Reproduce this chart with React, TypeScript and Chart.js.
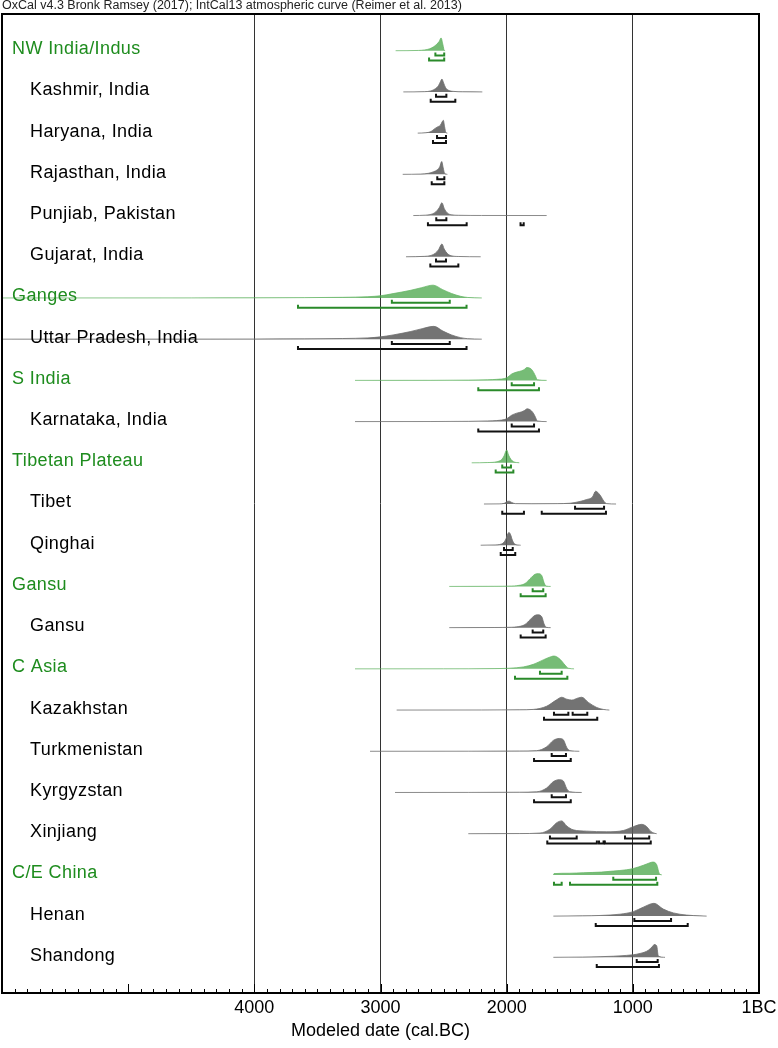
import React, { useEffect, useRef } from "react";
import { Chart, registerables } from "chart.js";
Chart.register(...registerables);

const headerText = "OxCal v4.3 Bronk Ramsey (2017); IntCal13 atmospheric curve (Reimer et al. 2013)";
const axisTitle = "Modeled date (cal.BC)";

const rowLabels = [
  "NW India/Indus", "Kashmir, India", "Haryana, India", "Rajasthan, India", "Punjiab, Pakistan",
  "Gujarat, India", "Ganges", "Uttar Pradesh, India", "S India", "Karnataka, India",
  "Tibetan Plateau", "Tibet", "Qinghai", "Gansu", "Gansu", "C Asia", "Kazakhstan",
  "Turkmenistan", "Kyrgyzstan", "Xinjiang", "C/E China", "Henan", "Shandong",
];
const groupRows = [0, 6, 8, 10, 13, 15, 20];

// density curves: [year BC, relative probability]
const nwIndia = [[2880,0],[2700,0.02],[2650,0.06],[2610,0.15],[2580,0.3],[2555,0.5],[2535,0.72],[2520,1],[2505,0.45],[2495,0.03],[2488,0]];
const kashmir = [[2819,0],[2650,0.02],[2600,0.08],[2565,0.25],[2540,0.5],[2525,0.8],[2513,1],[2500,0.7],[2485,0.35],[2460,0.12],[2420,0.04],[2350,0.01],[2193,0]];
const haryana = [[2705,0],[2640,0.03],[2600,0.12],[2570,0.35],[2545,0.5],[2525,0.62],[2510,0.9],[2502,1],[2492,0.5],[2482,0.05],[2470,0]];
const rajasthan = [[2824,0],[2680,0.02],[2620,0.08],[2580,0.2],[2550,0.35],[2530,0.6],[2515,1],[2503,0.5],[2492,0.08],[2470,0]];
const punjab = [[2740,0],[2640,0.03],[2590,0.12],[2560,0.3],[2535,0.6],[2513,1],[2495,0.55],[2470,0.2],[2440,0.06],[2380,0.02],[2200,0.005],[1683,0]];
const gujarat = [[2798,0],[2650,0.03],[2600,0.1],[2565,0.28],[2540,0.55],[2513,1],[2495,0.6],[2470,0.25],[2440,0.08],[2380,0.02],[2206,0]];
const ganges = [[6000,0],[4500,0.005],[4000,0.01],[3600,0.025],[3300,0.05],[3100,0.1],[3000,0.17],[2900,0.34],[2760,0.6],[2676,0.8],[2583,1],[2507,0.65],[2437,0.35],[2366,0.13],[2310,0.04],[2197,0]];
const uttarPradesh = [[6000,0],[4500,0.005],[4000,0.01],[3600,0.025],[3300,0.05],[3100,0.1],[3000,0.18],[2900,0.33],[2760,0.6],[2670,0.82],[2577,1],[2505,0.63],[2437,0.33],[2366,0.12],[2310,0.04],[2197,0]];
const sIndia = [[3202,0],[2600,0.005],[2300,0.02],[2150,0.05],[2079,0.08],[2000,0.2],[1960,0.5],[1920,0.65],[1881,0.75],[1860,0.85],[1841,1],[1815,0.95],[1802,0.85],[1785,0.6],[1770,0.3],[1757,0.05],[1683,0]];
const karnataka = [[3202,0],[2600,0.005],[2300,0.02],[2150,0.05],[2079,0.08],[2000,0.22],[1960,0.5],[1920,0.66],[1881,0.76],[1860,0.86],[1837,1],[1815,0.93],[1800,0.8],[1785,0.6],[1770,0.3],[1757,0.05],[1683,0]];
const tibetanPlateau = [[2277,0],[2150,0.02],[2080,0.08],[2040,0.25],[2020,0.55],[2000,1],[1985,0.6],[1965,0.25],[1945,0.08],[1900,0]];
const tibet = [[2180,0],[2060,0.01],[2020,0.05],[1995,0.2],[1979,0.22],[1960,0.12],[1930,0.03],[1800,0.02],[1600,0.03],[1498,0.06],[1419,0.2],[1366,0.35],[1320,0.55],[1295,1],[1260,0.7],[1228,0.2],[1207,0.03],[1133,0]];
const qinghai = [[2206,0],[2100,0.02],[2040,0.1],[2010,0.4],[1990,0.9],[1982,1],[1970,0.85],[1955,0.4],[1935,0.08],[1889,0]];
const gansuGroup = [[2455,0],[2100,0.01],[1960,0.03],[1920,0.06],[1855,0.22],[1815,0.6],[1775,0.95],[1749,1],[1722,0.85],[1704,0.3],[1688,0.03],[1651,0]];
const gansu = [[2455,0],[2100,0.01],[1960,0.03],[1920,0.06],[1855,0.24],[1815,0.62],[1775,0.96],[1752,1],[1722,0.85],[1704,0.3],[1688,0.03],[1651,0]];
const cAsia = [[3202,0],[2500,0.005],[2100,0.02],[1974,0.05],[1868,0.15],[1789,0.35],[1710,0.7],[1643,0.97],[1625,1],[1577,0.75],[1538,0.3],[1511,0.05],[1466,0]];
const kazakhstan = [[2872,0],[2200,0.005],[1900,0.02],[1789,0.05],[1683,0.3],[1604,0.8],[1564,1],[1524,0.85],[1485,0.78],[1432,0.95],[1405,1],[1353,0.6],[1286,0.2],[1234,0.05],[1186,0]];
const turkmenistan = [[3083,0],[2300,0.005],[1900,0.02],[1762,0.05],[1683,0.35],[1630,0.85],[1583,1],[1551,0.9],[1524,0.3],[1498,0.05],[1424,0]];
const kyrgyzstan = [[2885,0],[2300,0.005],[1900,0.02],[1762,0.05],[1683,0.35],[1630,0.85],[1583,1],[1551,0.9],[1524,0.3],[1498,0.05],[1405,0]];
const xinjiang = [[2304,0],[1900,0.01],[1736,0.05],[1657,0.35],[1604,0.85],[1564,1],[1524,0.6],[1472,0.3],[1366,0.2],[1207,0.15],[1075,0.25],[996,0.55],[930,0.73],[890,0.55],[858,0.18],[824,0.02],[811,0]];
const ceChina = [[1630,0],[1625,0.1],[1500,0.13],[1393,0.17],[1250,0.22],[1155,0.3],[1050,0.4],[996,0.5],[917,0.75],[864,0.95],[843,1],[811,0.8],[790,0.1],[771,0]];
const henan = [[1630,0],[1400,0.02],[1260,0.05],[1102,0.15],[996,0.35],[917,0.7],[832,1],[759,0.55],[679,0.25],[573,0.08],[468,0.02],[415,0]];
const shandong = [[1630,0],[1400,0.02],[1260,0.05],[1049,0.15],[943,0.3],[877,0.55],[840,0.9],[832,1],[811,0.9],[798,0.1],[745,0]];

const densities = [nwIndia, kashmir, haryana, rajasthan, punjab, gujarat, ganges, uttarPradesh, sIndia, karnataka,
  tibetanPlateau, tibet, qinghai, gansuGroup, gansu, cAsia, kazakhstan, turkmenistan, kyrgyzstan, xinjiang, ceChina, henan, shandong];

// highest probability ranges [from BC, to BC]
const range68 = [
  [[2565,2495]], [[2560,2478]], [[2552,2481]], [[2550,2494]], [[2558,2478]], [[2560,2481]],
  [[2910,2451]], [[2910,2451]], [[1960,1783]], [[1960,1783]], [[2035,1966]], [[1458,1228]],
  [[2021,1952]], [[1794,1710]], [[1794,1710]], [[1736,1564]], [[1625,1511],[1477,1361]],
  [[1643,1530]], [[1643,1530]], [[1657,1445],[1062,870]], [[1155,816]], [[988,697]], [[969,803]],
];
const range95 = [
  [[2615,2495]], [[2602,2407]], [[2584,2481]], [[2594,2494]], [[2624,2317],[1890,1865]], [[2605,2383]],
  [[3654,2318]], [[3654,2318]], [[2225,1744]], [[2225,1744]], [[2087,1947]], [[2035,1863],[1722,1213]],
  [[2047,1932]], [[1889,1691]], [[1889,1691]], [[1934,1519]], [[1704,1282]],
  [[1783,1492]], [[1783,1492]], [[1678,1285],[1268,1232],[1222,858]], [[1625,1564],[1498,806]], [[1294,565]], [[1286,793]],
];

const majorTickYears = [4000, 3000, 2000, 1000, 0];
const majorTickLabels = ["4000", "3000", "2000", "1000", "1BC"];
const gridYears = [4000, 3000, 2000, 1000];

const FONT = '"Liberation Sans", Arial, sans-serif';
const ROW_PX = 41.21;
const PEAK = 12.8 / ROW_PX;
const OFF68 = 4.8 / ROW_PX;
const OFF95 = 9.8 / ROW_PX;
const TICK = 3 / ROW_PX;

const GREEN_TEXT = "#1e8c1e";
const GREEN_BRACKET = "#2a8a2a";

const overlay = {
  id: "overlay",
  afterDatasetsDraw(chart: any) {
    const { ctx, chartArea: a, scales } = chart;
    const x = scales.x, y = scales.y;
    ctx.save();
    ctx.font = "18px " + FONT;
    ctx.textBaseline = "middle";
    ctx.textAlign = "left";
    try { (ctx as any).letterSpacing = "0.4px"; } catch (e) {}
    rowLabels.forEach((t, i) => {
      const g = groupRows.includes(i);
      ctx.fillStyle = g ? GREEN_TEXT : "#000";
      ctx.fillText(t, g ? a.left + 10 : a.left + 28, y.getPixelForValue(i) - 1.5);
    });
    try { (ctx as any).letterSpacing = "0px"; } catch (e) {}
    ctx.strokeStyle = "#000";
    ctx.lineWidth = 1;
    x.ticks.forEach((t: any) => {
      const px = Math.round(x.getPixelForValue(t.value)) + 0.5;
      const len = t.value % 1000 === 0 ? 9 : 4;
      ctx.beginPath();
      ctx.moveTo(px, a.bottom);
      ctx.lineTo(px, a.bottom - len);
      ctx.stroke();
    });
    ctx.lineWidth = 2;
    ctx.strokeRect(a.left, a.top, a.right - a.left, a.bottom - a.top);
    ctx.restore();
  },
};

export default function App() {
  const ref = useRef<HTMLCanvasElement>(null);
  useEffect(() => {
    const datasets: any[] = [];
    densities.forEach((dens, i) => {
      const g = groupRows.includes(i);
      datasets.push({
        data: dens.map(([yr, d]) => ({ x: yr, y: i - d * PEAK })),
        borderColor: g ? "rgba(100,180,100,0.75)" : "rgba(110,110,110,0.8)",
        backgroundColor: g ? "rgba(60,160,60,0.7)" : "rgba(90,90,90,0.85)",
        borderWidth: 1,
        fill: { value: i },
        pointRadius: 0,
        cubicInterpolationMode: "monotone",
      });
    });
    const addBrackets = (list: number[][][], off: number) => {
      list.forEach((ranges, i) => {
        const g = groupRows.includes(i);
        ranges.forEach(([a, b]) => {
          const yy = i + off;
          datasets.push({
            data: [
              { x: a, y: yy - TICK },
              { x: a, y: yy },
              { x: b, y: yy },
              { x: b, y: yy - TICK },
            ],
            borderColor: g ? GREEN_BRACKET : "#111",
            borderWidth: 2,
            fill: false,
            pointRadius: 0,
            tension: 0,
            borderJoinStyle: "miter",
          });
        });
      });
    };
    addBrackets(range68, OFF68);
    addBrackets(range95, OFF95);

    const chart = new Chart(ref.current as HTMLCanvasElement, {
      type: "line",
      data: { datasets },
      plugins: [overlay],
      options: {
        responsive: false,
        animation: false,
        devicePixelRatio: 1,
        events: [],
        layout: { padding: { left: 2, right: 19, top: 0, bottom: 0 } },
        plugins: {
          legend: { display: false },
          tooltip: { enabled: false },
          title: {
            display: true,
            text: headerText,
            align: "start",
            color: "#222",
            font: { family: FONT, size: 12.5, lineHeight: 0.96, weight: "normal" },
            padding: { top: 0, bottom: 2 },
          },
        },
        scales: {
          x: {
            type: "linear",
            reverse: true,
            min: 0,
            max: 6000,
            afterBuildTicks: (s: any) => {
              const t: any[] = [];
              for (let v = 0; v <= 6000; v += 100) t.push({ value: v });
              s.ticks = t;
            },
            afterFit: (s: any) => { s.height = 55; },
            ticks: {
              autoSkip: false,
              maxRotation: 0,
              padding: 4,
              color: "#000",
              font: { family: FONT, size: 18 },
              callback: (v: any) => {
                const k = majorTickYears.indexOf(Number(v));
                return k >= 0 ? majorTickLabels[k] : "";
              },
            },
            grid: {
              drawTicks: false,
              lineWidth: 1,
              color: (c: any) => (c.tick && gridYears.includes(c.tick.value) ? "#333" : "rgba(0,0,0,0)"),
            },
            border: { display: false },
            title: {
              display: true,
              text: axisTitle,
              color: "#000",
              font: { family: FONT, size: 18 },
              padding: { top: 0, bottom: 6 },
            },
          },
          y: {
            type: "linear",
            display: false,
            reverse: true,
            min: -(50.7 - 14) / ROW_PX,
            max: -(50.7 - 14) / ROW_PX + 979 / ROW_PX,
          },
        },
      } as any,
    });
    return () => chart.destroy();
  }, []);
  return (
    <div style={{ position: "fixed", left: 0, top: 0, width: 778, height: 1048, background: "#fff" }}>
      <canvas ref={ref} width={778} height={1048} style={{ width: 778, height: 1048, display: "block" }} />
    </div>
  );
}
